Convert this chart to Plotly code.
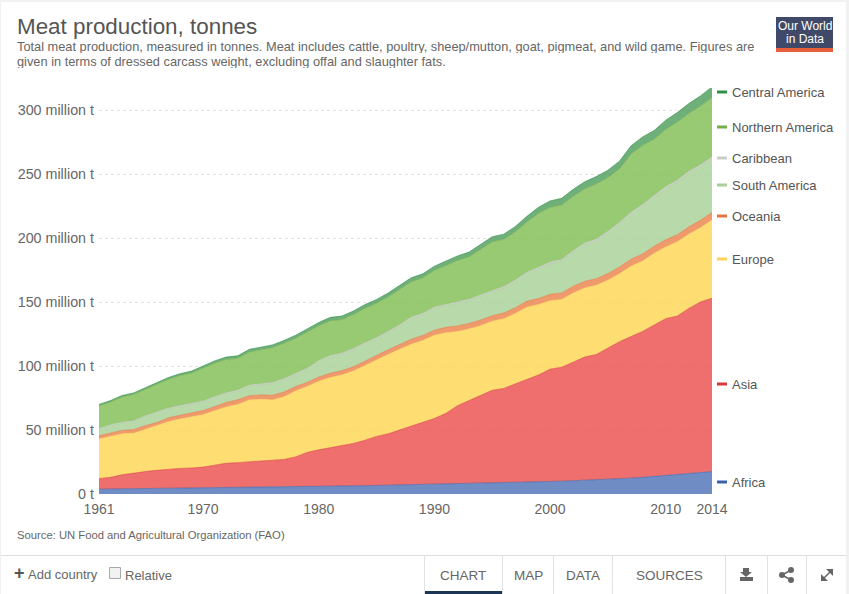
# plot.py - meat production by world region, stacked area

import plotly.graph_objects as go

# --- Data (million tonnes) ---
years = list(range(1961, 2015))

africa = [3.8, 3.9, 4.0, 4.1, 4.2, 4.3, 4.4, 4.5, 4.6, 4.7,
          4.8, 4.9, 5.0, 5.0, 5.1, 5.2, 5.4, 5.6, 5.8, 6.0,
          6.1, 6.2, 6.4, 6.5, 6.7, 6.9, 7.0, 7.2, 7.4, 7.6,
          7.8, 7.9, 8.0, 8.2, 8.4, 8.6, 8.9, 9.2, 9.5, 9.8,
          10.0, 10.4, 10.7, 11.0, 11.4, 11.9, 12.4, 13.0, 13.7, 14.4,
          15.0, 15.7, 16.4, 17.5]
asia = [8.2, 9.1, 11.0, 12.4, 13.3, 14.2, 15.1, 15.5, 15.7, 16.3,
        17.7, 19.1, 19.5, 20.0, 20.4, 20.8, 21.6, 23.4, 26.7, 28.5,
        29.9, 31.8, 33.1, 35.5, 38.3, 40.1, 43.0, 45.8, 48.1, 51.4,
        55.2, 61.1, 65.0, 68.8, 72.6, 73.9, 77.1, 80.8, 83.5, 87.7,
        89.0, 92.6, 96.3, 98.0, 102.6, 107.1, 110.6, 114.0, 118.3, 122.6,
        124.0, 129.3, 133.6, 135.5]
europe = [31, 32, 32, 31, 33, 34.5, 37, 38.5, 39.7, 41,
          42.5, 44, 45.5, 48.5, 48.5, 47.5, 49, 51.5, 51.5, 53.5,
          55, 55, 56.5, 58.5, 60, 62, 63, 64, 64.5, 65,
          63, 58, 56, 54.5, 54, 54.5, 55, 56, 55, 53.5,
          53, 54, 54, 54, 53, 53, 55, 55, 56, 56,
          58, 58, 58, 61]
oceania = [2.5, 2.6, 2.7, 2.8, 2.9, 2.8, 3.0, 3.0, 3.1, 3.2,
           3.3, 3.5, 3.6, 3.3, 3.4, 3.6, 3.6, 3.4, 3.2, 3.4,
           3.3, 3.4, 3.4, 3.5, 3.6, 3.7, 3.8, 3.9, 3.9, 4.0,
           4.2, 4.3, 4.3, 4.4, 4.3, 4.4, 4.6, 4.7, 4.7, 5.0,
           5.1, 5.3, 5.2, 5.2, 5.2, 5.3, 5.4, 5.5, 5.5, 5.6,
           5.5, 5.7, 5.8, 6.0]
south_america = [5.0, 5.9, 5.8, 6.2, 7.1, 7.7, 7.0, 6.9, 7.3, 6.7,
                 7.1, 6.9, 6.8, 7.5, 7.9, 9.2, 9.7, 9.4, 10.1, 11.8,
                 12.9, 12.8, 13.3, 13.2, 12.6, 13.5, 14.3, 16.2, 16.2, 17.1,
                 17.0, 17.9, 17.9, 18.8, 18.8, 19.7, 20.5, 21.4, 23.3, 24.0,
                 24.9, 26.7, 28.7, 29.7, 31.7, 33.6, 35.4, 37.3, 38.3, 40.2,
                 41.2, 42.0, 41.9, 41.6]
caribbean = [0.5, 0.5, 0.5, 0.5, 0.5, 0.5, 0.5, 0.6, 0.6, 0.6,
             0.6, 0.6, 0.6, 0.7, 0.7, 0.7, 0.7, 0.7, 0.7, 0.8,
             0.8, 0.8, 0.8, 0.8, 0.8, 0.8, 0.9, 0.9, 0.9, 0.9,
             0.8, 0.8, 0.8, 0.8, 0.9, 0.9, 0.9, 0.9, 1.0, 1.0,
             1.0, 1.0, 1.1, 1.1, 1.1, 1.1, 1.2, 1.2, 1.2, 1.2,
             1.3, 1.3, 1.3, 1.4]
northern_america = [18.0, 17.9, 19.9, 20.8, 20.8, 21.7, 22.6, 23.5, 23.5, 25.9,
                    26.3, 26.2, 25.1, 26.0, 26.9, 27.4, 27.8, 27.7, 28.6, 27.5,
                    27.4, 26.3, 26.8, 27.2, 27.1, 27.1, 28.0, 27.9, 27.9, 28.8,
                    30.6, 32.5, 33.4, 35.7, 38.0, 37.0, 37.8, 39.6, 42.3, 43.0,
                    42.8, 42.6, 42.5, 43.4, 42.2, 42.0, 45.7, 46.4, 44.2, 45.0,
                    45.7, 45.4, 46.1, 46.8]
central_america = [1.0, 1.1, 1.1, 1.2, 1.2, 1.3, 1.4, 1.5, 1.5, 1.6,
                   1.7, 1.8, 1.9, 2.0, 2.1, 2.1, 2.2, 2.3, 2.4, 2.5,
                   2.6, 2.7, 2.7, 2.8, 2.9, 2.9, 3.0, 3.1, 3.1, 3.2,
                   3.4, 3.5, 3.6, 3.8, 4.0, 4.0, 4.2, 4.4, 4.7, 5.0,
                   5.2, 5.4, 5.5, 5.6, 5.8, 6.0, 6.3, 6.6, 6.8, 7.0,
                   7.3, 7.6, 7.9, 8.2]

x_ticks = [1961, 1970, 1980, 1990, 2000, 2010, 2014]
y_ticks = [0, 50, 100, 150, 200, 250, 300]
y_labels = ["0 t", "50 million t", "100 million t", "150 million t",
            "200 million t", "250 million t", "300 million t"]

# name, values, fill, line/legend colour, legend label y in pixels
series = [
    ("Africa", africa, "rgba(75,112,181,0.8)", "#3a62ac", 482),
    ("Asia", asia, "rgba(234,75,73,0.8)", "#d8383c", 384),
    ("Europe", europe, "rgba(254,212,79,0.8)", "#fbd35c", 259),
    ("Oceania", oceania, "rgba(235,129,71,0.8)", "#e5733f", 216),
    ("South America", south_america, "rgba(166,207,147,0.8)", "#a9cf97", 185),
    ("Caribbean", caribbean, "rgba(191,191,191,0.8)", "#cccccc", 158),
    ("Northern America", northern_america, "rgba(126,187,80,0.8)", "#74ad4c", 127),
    ("Central America", central_america, "rgba(75,156,89,0.8)", "#2f8f47", 92),
]

# --- Page geometry ---
W, H = 849, 594
L, R, T, B = 99, 712, 88, 494
GREY = "#666666"
FONT = "Liberation Sans, Arial, sans-serif"


def px(x):
    return (x - L) / (R - L)


def py(y):
    return (B - y) / (B - T)


def text(x, y, s, size=14, color=GREY, anchor="left", height=None):
    # annotations pad their text by about 2px, take that back on left aligned ones
    return dict(x=px(x), y=py(y), xref="paper", yref="paper", text=s, showarrow=False,
                xanchor=anchor, yanchor="middle", align="left", height=height,
                xshift=-2 if anchor == "left" else 0,
                font=dict(size=size, color=color, family=FONT))


def rect(x0, y0, x1, y1, fill, line=None):
    return dict(type="rect", xref="paper", yref="paper", x0=px(x0), x1=px(x1), y0=py(y0), y1=py(y1),
                fillcolor=fill, line=dict(width=1 if line else 0, color=line or fill))


def path(points, fill=None, line=None, width=1.5):
    d = "M" + " L".join(f"{px(a):.5f},{py(b):.5f}" for a, b in points)
    if fill:
        d += " Z"
    return dict(type="path", xref="paper", yref="paper", path=d, fillcolor=fill or "rgba(0,0,0,0)",
                line=dict(width=width if line else 0, color=line or "rgba(0,0,0,0)"))


def dot(x, y, r, fill):
    return dict(type="circle", xref="paper", yref="paper", x0=px(x - r), x1=px(x + r),
                y0=py(y + r), y1=py(y - r), fillcolor=fill, line=dict(width=0))


fig = go.Figure()
for name, values, fill, color, _ in series:
    fig.add_trace(go.Scatter(x=years, y=values, name=name, mode="lines", stackgroup="one",
                             fillcolor=fill, line=dict(color=color, width=0.6)))

annotations = [
    text(17, 27, "Meat production, tonnes", size=22.4, color="#555555"),
    text(17, 46.5, "Total meat production, measured in tonnes. Meat includes cattle, poultry, sheep/mutton, "
                   "goat, pigmeat, and wild game. Figures are", size=12.8, height=13),
    text(17, 61.5, "given in terms of dressed carcass weight, excluding offal and slaughter fats.",
         size=12.8, height=13),
    text(17, 535, "Source: UN Food and Agricultural Organization (FAO)", size=11.25),
    text(804.5, 26, "Our World", size=12, color="#ffffff", anchor="center", height=12),
    text(804.5, 39, "in Data", size=12, color="#ffffff", anchor="center", height=12),
    text(14, 573, "<b>+</b>", size=18, color="#555555"),
    text(28, 574, "Add country", size=13),
    text(125, 575, "Relative", size=13),
    text(463, 575, "CHART", size=13.5, anchor="center"),
    text(528, 575, "MAP", size=13.5, anchor="center"),
    text(583, 575, "DATA", size=13.5, anchor="center"),
    text(669, 575, "SOURCES", size=13.5, anchor="center"),
]

shapes = [
    # card edges and logo
    rect(0, 0, W, 2, "#f1f1f1"),
    rect(0, 0, 1, H, "#f1f1f1"),
    rect(846, 0, W, H, "#f1f1f1"),
    rect(776, 17, 833, 48, "#404a68"),
    rect(776, 48, 833, 52, "#e8603c"),
    # footer
    rect(1, 555, 846, 556, "#dddddd"),
    rect(425, 591, 502, 594, "#1d3557"),
    rect(109.5, 567.5, 120.5, 578.5, "#f2f2f2", "#aaaaaa"),
    # download icon
    path([(743, 568), (749, 568), (749, 572), (752, 572), (746, 577), (740, 572), (743, 572)], fill="#666666"),
    rect(740, 577, 753, 581, "#666666"),
    # share icon
    path([(782, 575), (791, 570)], line="#666666"),
    path([(782, 575), (791, 580)], line="#666666"),
    dot(782, 575, 3, "#666666"),
    dot(791, 570, 3, "#666666"),
    dot(791, 580, 3, "#666666"),
    # expand icon
    path([(826, 569), (833, 569), (833, 576)], fill="#666666"),
    path([(821, 574), (821, 581), (828, 581)], fill="#666666"),
    path([(823, 579), (831, 571)], line="#666666"),
]
for x in [424, 502, 553, 612, 725, 767, 806]:
    shapes.append(rect(x, 556, x + 1, H, "#e2e2e2"))

# legend dashes and labels sit to the right of the plot
for name, _, _, color, label_y in series:
    shapes.append(rect(717, label_y - 1.5, 727, label_y + 1.5, color))
    annotations.append(text(732, label_y, name, size=13, color="#555555"))

fig.update_layout(
    width=W,
    height=H,
    margin=dict(l=L, r=W - R, t=T, b=H - B, autoexpand=False),
    paper_bgcolor="white",
    plot_bgcolor="white",
    showlegend=False,
    font=dict(family=FONT, size=14, color=GREY),
    annotations=annotations,
    shapes=shapes,
    xaxis=dict(range=[1961, 2014], tickvals=x_ticks, ticktext=[str(v) for v in x_ticks],
               showgrid=False, zeroline=False, showline=False, ticks="",
               ticklabelstandoff=5, tickfont=dict(size=14, color=GREY)),
    yaxis=dict(range=[0, 317.2], tickvals=y_ticks, ticktext=y_labels,
               showgrid=True, gridcolor="#e2e2e2", griddash="dot", gridwidth=1,
               zeroline=False, showline=False, ticks="",
               ticklabelstandoff=4, tickfont=dict(size=14.3, color=GREY)),
)

# the default page body has an 8px margin, drop it so the figure fills the window
fig.write_html("out.html", config={"displayModeBar": False},
               post_script="document.body.style.margin='0';")
